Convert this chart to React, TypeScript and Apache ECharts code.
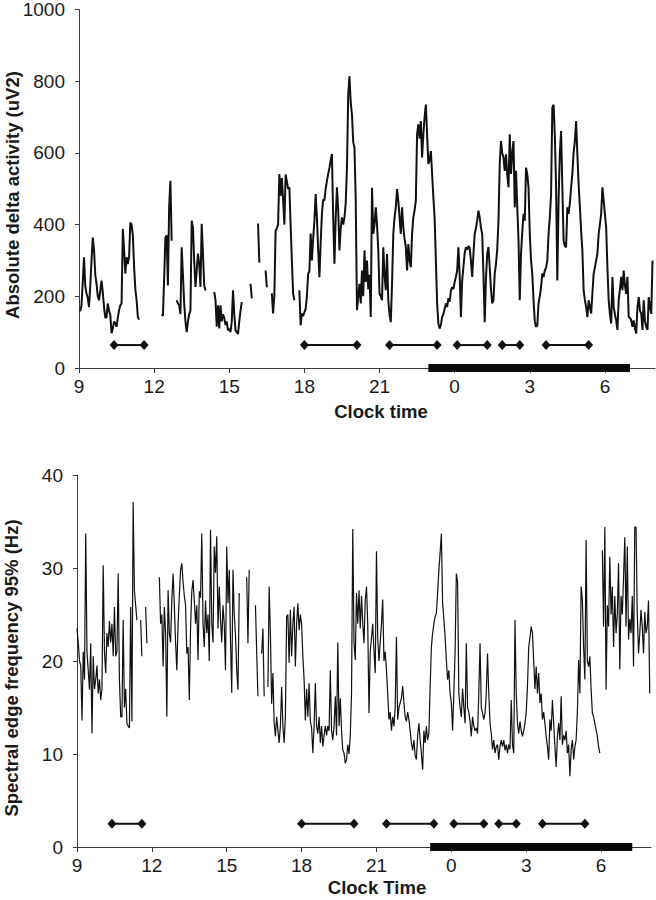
import React, { useEffect, useRef } from "react";
import * as echarts from "echarts";

// Time base: clock hours from 9:00 (values >= 24 are the next morning)
const START_HOUR = 9;
const STEP = 0.05; // hours between samples
const xTickHours = [9, 12, 15, 18, 21, 24, 27, 30];

// Absolute delta activity (uV2), one row per clock hour, null = no recording
const deltaValues: (number | null)[] = [
  /* 9 */ null, 158, 175, 240, 309, 230, 208, 195, 170, 230, 300, 364, 330, 260, 235, 200, 189, 215, 244, 210,
  /* 10 */ 170, 140, 142, 180, 160, 148, 97, 110, 129, 125, 115, 140, 161, 175, 180, 388, 330, 263, 309, 290,
  /* 11 */ 310, 406, 400, 370, 282, 220, 189, 142, 135, null, null, null, null, null, null, null, null, null, null, null,
  /* 12 */ null, null, null, null, null, null, 150, 145, 250, 364, 370, 230, 450, 522, 355, null, null, null, 189, 180,
  /* 13 */ 175, 150, 337, 260, 180, 130, 100, 130, 150, 160, 411, 392, 300, 226, 272, 319, 290, 226, 402, 319,
  /* 14 */ 230, 216, null, null, null, null, null, null, 212, 190, 115, 175, 110, 175, 130, 150, 140, 120, 130, 105,
  /* 15 */ 110, 100, 130, 217, 150, 105, 100, 95, 130, 160, 184, null, null, null, null, null, null, 235, 194, null,
  /* 16 */ null, null, null, 403, 294, null, null, null, null, 272, 225, null, null, null, 208, 152, 200, 383, 390, 400,
  /* 17 */ 541, 480, 530, 470, 400, 540, 520, 500, 504, 400, 300, 208, 189, null, null, null, 217, 119, 152, 145,
  /* 18 */ 155, 165, 200, 263, 270, 375, 300, 360, 411, 485, 420, 330, 253, 350, 430, 470, 467, 500, 522, 541,
  /* 19 */ 558, 580, 597, 420, 291, 420, 504, 440, 328, 390, 420, 400, 420, 460, 559, 763, 814, 740, 707, 630,
  /* 20 */ 615, 467, 161, 200, 235, 180, 272, 200, 328, 240, 300, 220, 260, 142, 503, 374, 400, 448, 400, 330,
  /* 21 */ 207, 200, 189, 337, 260, 217, 318, 189, 150, 128, 235, 374, 420, 448, 499, 467, 420, 374, 448, 392,
  /* 22 */ 360, 337, 272, 346, 300, 281, 374, 420, 440, 467, 652, 680, 640, 689, 587, 652, 700, 735, 652, 569,
  /* 23 */ 580, 605, 541, 476, 420, 300, 180, 124, 110, 120, 142, 150, 165, 180, 170, 195, 185, 215, 226, 220,
  /* 0 */ 240, 254, 272, 337, 260, 142, 244, 281, 320, 337, 330, 340, 335, 300, 254, 318, 374, 390, 411, 439,
  /* 1 */ 420, 392, 374, 260, 128, 250, 318, 337, 281, 220, 180, 189, 263, 290, 330, 411, 569, 633, 600, 587,
  /* 2 */ 550, 596, 540, 504, 652, 541, 600, 633, 448, 550, 450, 356, 189, 318, 380, 430, 411, 559, 540, 504,
  /* 3 */ 374, 300, 263, 189, 130, 115, 119, 180, 200, 226, 263, 254, 272, 280, 300, 374, 420, 485, 726, 735,
  /* 4 */ 650, 504, 244, 467, 600, 661, 504, 356, 340, 337, 448, 430, 460, 504, 541, 600, 633, 689, 596, 513,
  /* 5 */ 450, 383, 328, 217, 190, 170, 142, 189, 170, 152, 207, 263, 280, 300, 318, 374, 400, 430, 504, 467,
  /* 6 */ 430, 392, 281, 189, 150, 124, 254, 170, 150, 133, 106, 189, 220, 254, 217, 272, 230, 207, 254, 142,
  /* 7 */ 140, 133, 115, 133, 110, 96, 170, 198, 160, 152, 106, 189, 130, 115, 106, 198, 170, 151, 300, null,
  /* 8 */ null,
];

// Spectral edge frequency 95% (Hz)
const sefValues: (number | null)[] = [
  /* 9 */ 23.5, 22, 20, 19.5, 13.6, 21, 18, 33.7, 21, 19, 16.9, 21.9, 12.2, 20.5, 17, 18, 19.5, 16.5, 18, 15.8,
  /* 10 */ 17, 30.3, 21, 18.7, 23, 21.5, 24.3, 22, 24, 20.5, 25.8, 20.5, 21, 29.4, 18, 14, 14, 24.4, 15, 17,
  /* 11 */ 13.3, 13, 12.8, 25.8, 13.5, 37.1, 27.6, 26, 24.4, null, null, 24.4, 20.5, null, null, 25.8, 21.9, null, null, null,
  /* 12 */ null, null, null, null, null, null, 29, 24, 25, 19.4, 25.8, 23, 14, 27.6, 23, 22, 26.6, 29.4, 26, 22,
  /* 13 */ 19, 24, 27, 29.8, 30.5, 28.5, 27, 26, 20.8, 21.5, 15.8, 23.5, 27.5, 28.7, 26.5, 24, 26, 20.1, 27.5, 26.8,
  /* 14 */ 33.7, 24, 21.5, 26.5, 23, 25, 20, 34.1, 24, 22, 32.3, 29.5, 33.4, 23.5, 28, 24.5, 22, 26, 24, 19,
  /* 15 */ 32.3, 26.2, 29.8, 22.2, 16.6, 29.8, 25, 22.9, 19, 16.9, 27.3, null, null, null, null, null, 29, 21.9, 29.8, null,
  /* 16 */ null, null, null, 26, 21, 16.2, null, null, 20.8, 23.5, 16.2, null, null, 17.2, 28, 22.9, 15.4, 18.7, 13.3, 11.9,
  /* 17 */ 14, 12.6, 11.2, 13, 17.2, 13, 11.2, 14, 24.8, 25, 19.8, 25.5, 20.5, 24, 25.8, 19.4, 24, 26.2, 23.3, 25,
  /* 18 */ 24, 20.5, 18, 13.6, 17, 14, 17.6, 13.5, 12.8, 10.1, 13, 17.6, 13, 12.2, 14, 11.2, 13, 10.8, 12, 13,
  /* 19 */ 12, 13, 12.5, 19, 12.5, 11.5, 13, 16.2, 12, 22, 13, 16, 12.5, 10.4, 10.1, 9, 9.4, 11, 10, 12,
  /* 20 */ 16.5, 34.2, 22, 20.1, 27.3, 24, 27.6, 23.5, 27, 24, 21.9, 26.5, 28, 24, 14.4, 21, 22.5, 24, 21, 18.7,
  /* 21 */ 31.8, 22.5, 20, 22, 24, 26.6, 20, 21, 19, 16.5, 13.7, 14.5, 12.5, 14, 13, 15, 22.6, 13.7, 15, 15.5,
  /* 22 */ 16, 17.3, 15.5, 14, 13.5, 14.5, 13.7, 12.5, 11.2, 10.4, 11.5, 9.8, 9.4, 12, 13.3, 11.5, 10, 8.3, 12.5, 11.2,
  /* 23 */ 13, 11.5, 12.2, 17.3, 21.5, 23, 24, 24.8, 25.1, 27.3, 29.8, 31.6, 33.7, 26.2, 24.5, 22.6, 20.1, 18, 19, 16.5,
  /* 0 */ 15.5, 12.5, 16.5, 21, 29.4, 28.5, 16.5, 15, 14, 17, 15, 13.3, 21.9, 15, 14.5, 13.5, 11.9, 14, 13, 12.5,
  /* 1 */ 12.8, 12.2, 16.5, 21.9, 15, 14.4, 13.7, 14.4, 16.5, 20.8, 16.5, 13.3, 12.2, 10.5, 11.5, 10.1, 10.8, 11, 9.4, 10.8,
  /* 2 */ 11.5, 10.8, 11.5, 10.4, 11, 10.1, 11, 10.5, 15.8, 11, 10.1, 24.4, 16.5, 13.3, 12.2, 13.5, 12.5, 11.9, 12.5, 13.3,
  /* 3 */ 14.5, 17.3, 21.5, 22.5, 23.7, 23, 20, 17, 19.4, 16.5, 18.7, 15.5, 16.5, 13.7, 14.5, 13.3, 11.9, 10.8, 9.4, 13.7,
  /* 4 */ 12.5, 15.8, 13.3, 10.8, 8.6, 11.9, 13.3, 11.5, 16.2, 11, 12, 11.5, 12.5, 10.1, 11, 7.6, 10.5, 11.5, 9.4, 10.8,
  /* 5 */ 11.5, 14.5, 20.1, 16.5, 28, 26.6, 21.5, 18, 33, 20, 19.4, 20.5, 17, 14.4, 14, 13.3, 12.6, 11.9, 10.8, 10.1,
  /* 6 */ null, 31.9, 23.7, 34.4, 16.9, 26, 23.7, 31.2, 25, 28, 21.5, 27, 23, 25, 30.5, 19.1, 27, 25, 29, 33.3,
  /* 7 */ 23.7, 32.3, 22.3, 24.5, 23, 27, 19.4, 34.4, 34.4, 25, 20.8, 23, 25.5, 23.7, 20.8, 25.3, 23, 23.7, 26.5, 16.5,
  /* 8 */ null,
];

// Wake / activity intervals shown as diamond-ended bars (clock hours)
const intervalStarts = [10.4, 18.0, 21.4, 24.1, 25.9, 27.65];
const intervalEnds = [11.6, 20.1, 23.3, 25.3, 26.6, 29.35];
const markerLevelDelta = 64;
const markerLevelSef = 2.5;

// Sleep period bar on the time axis
const sleepTop = [22.95, 31.0];
const sleepBottom = [23.15, 31.25];

const FONT = "'Liberation Sans', Arial, Helvetica, sans-serif";

const toPairs = (vals: (number | null)[]) =>
  vals.map((v, i) => [+(START_HOUR + i * STEP).toFixed(3), v === null ? "-" : v]);

export default function App() {
  const ref = useRef<HTMLDivElement>(null);

  useEffect(() => {
    if (!ref.current) return;
    const chart = echarts.init(ref.current, undefined, { renderer: "svg" });

    const xAxisBase = (gridIndex: number) => ({
      type: "value" as const,
      gridIndex,
      min: 9,
      max: 32,
      axisLine: { show: true, lineStyle: { color: "#3a3a3a", width: 1 } },
      axisTick: {
        show: true,
        inside: false,
        length: 5,
        customValues: xTickHours,
        lineStyle: { color: "#3a3a3a" },
      },
      axisLabel: {
        customValues: xTickHours,
        formatter: (v: number) => String(Math.round(v) % 24),
        fontSize: 19,
        color: "#1a1a1a",
        fontFamily: FONT,
        margin: 9,
      },
      splitLine: { show: false },
    });

    const yAxisBase = (gridIndex: number, max: number, interval: number) => ({
      type: "value" as const,
      gridIndex,
      min: 0,
      max,
      interval,
      axisLine: { show: true, lineStyle: { color: "#3a3a3a", width: 1 } },
      axisTick: { show: true, inside: false, length: 4, lineStyle: { color: "#3a3a3a" } },
      axisLabel: {
        fontSize: 19,
        color: "#1a1a1a",
        fontFamily: FONT,
        margin: 14,
        formatter: (v: number) => String(v),
      },
      splitLine: { show: false },
    });

    const markerSeries: any[] = [];
    [0, 1].forEach((g) => {
      const level = g === 0 ? markerLevelDelta : markerLevelSef;
      intervalStarts.forEach((s, i) => {
        markerSeries.push({
          type: "line",
          xAxisIndex: g,
          yAxisIndex: g,
          data: [
            [s, level],
            [intervalEnds[i], level],
          ],
          symbol: "diamond",
          symbolSize: [9, 10],
          showSymbol: true,
          itemStyle: { color: "#111" },
          lineStyle: { color: "#111", width: 2 },
          z: 4,
        });
      });
    });

    const sleepSeries = [sleepTop, sleepBottom].map((s, g) => ({
      type: "line",
      xAxisIndex: g,
      yAxisIndex: g,
      data: [
        [s[0], 0],
        [s[1], 0],
      ],
      symbol: "none",
      clip: false,
      lineStyle: { color: "#0a0a0a", width: 8, cap: "butt" },
      z: 6,
    }));

    const option: any = {
      animation: false,
      backgroundColor: "#ffffff",
      grid: [
        { left: 79, top: 8, width: 576, height: 360 },
        { left: 77, top: 475, width: 574, height: 372 },
      ],
      xAxis: [xAxisBase(0), xAxisBase(1)],
      yAxis: [yAxisBase(0, 1000, 200), yAxisBase(1, 40, 10)],
      series: [
        {
          type: "line",
          xAxisIndex: 0,
          yAxisIndex: 0,
          data: toPairs(deltaValues),
          showSymbol: false,
          symbol: "none",
          connectNulls: false,
          lineStyle: { color: "#111", width: 2 },
          z: 3,
        },
        {
          type: "line",
          xAxisIndex: 1,
          yAxisIndex: 1,
          data: toPairs(sefValues),
          showSymbol: false,
          symbol: "none",
          connectNulls: false,
          lineStyle: { color: "#111", width: 1.2 },
          z: 3,
        },
        ...markerSeries,
        ...sleepSeries,
      ],
      graphic: [
        {
          type: "text",
          x: 12,
          y: 195,
          rotation: Math.PI / 2,
          style: {
            text: "Absolute delta activity (uV2)",
            font: `bold 18.5px ${FONT}`,
            fill: "#1a1a1a",
            textAlign: "center",
            textVerticalAlign: "middle",
          },
        },
        {
          type: "text",
          x: 381,
          y: 411,
          style: {
            text: "Clock time",
            font: `bold 18.5px ${FONT}`,
            fill: "#1a1a1a",
            textAlign: "center",
            textVerticalAlign: "middle",
          },
        },
        {
          type: "text",
          x: 11,
          y: 668,
          rotation: Math.PI / 2,
          style: {
            text: "Spectral edge frequency 95% (Hz)",
            font: `bold 18.5px ${FONT}`,
            fill: "#1a1a1a",
            textAlign: "center",
            textVerticalAlign: "middle",
          },
        },
        {
          type: "text",
          x: 377,
          y: 887,
          style: {
            text: "Clock Time",
            font: `bold 18.5px ${FONT}`,
            fill: "#1a1a1a",
            textAlign: "center",
            textVerticalAlign: "middle",
          },
        },
      ],
    };

    chart.setOption(option);
    return () => chart.dispose();
  }, []);

  return (
    <div
      ref={ref}
      style={{ position: "absolute", left: 0, top: 0, width: 656, height: 900, background: "#fff" }}
    />
  );
}
